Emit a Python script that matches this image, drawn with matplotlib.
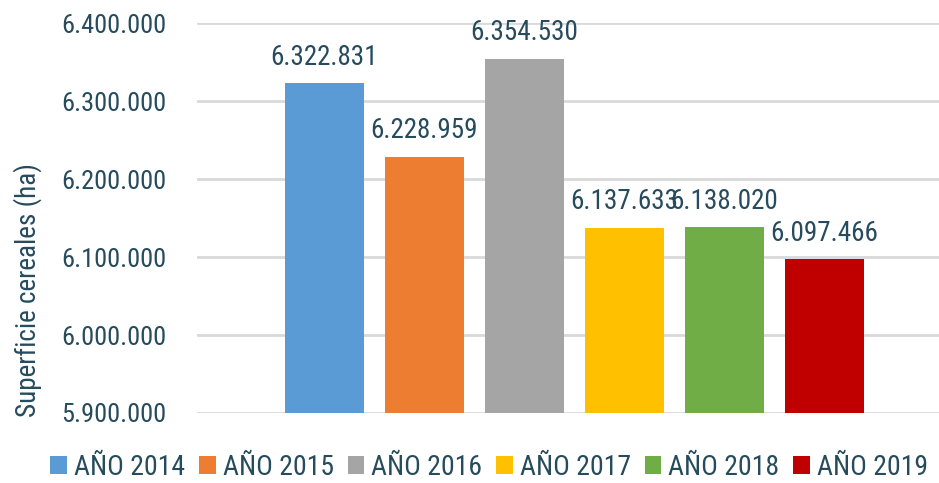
import matplotlib.pyplot as plt
from matplotlib.ticker import FuncFormatter

# data
years = ['AÑO 2014', 'AÑO 2015', 'AÑO 2016', 'AÑO 2017', 'AÑO 2018', 'AÑO 2019']
values = [6322831, 6228959, 6354530, 6137633, 6138020, 6097466]
colors = ['#5b9bd5', '#ed7d31', '#a5a5a5', '#ffc000', '#70ad47', '#c00000']

txt = '#264b5d'
plt.rcParams['font.family'] = ['Roboto Condensed', 'DejaVu Sans']


def miles(v):
    return '{:,.0f}'.format(v).replace(',', '.')


fig = plt.figure(figsize=(9.39, 4.83), dpi=100)
ax = fig.add_axes([0.21, 0.145, 0.79, 0.807])

for i, (lab, v, c) in enumerate(zip(years, values, colors)):
    ax.bar(i, v, width=0.79, color=c, label=lab, zorder=3)
    ax.annotate(miles(v), (i, v), xytext=(0, 9), textcoords='offset points',
                ha='center', va='bottom', fontsize=19.5, color=txt)

ax.set_ylim(5900000, 6400000)
ax.set_xlim(-1.27, 6.15)
ax.set_yticks(range(5900000, 6400001, 100000))
ax.yaxis.set_major_formatter(FuncFormatter(lambda v, p: miles(v)))
ax.set_xticks([])
ax.grid(axis='y', color='#d9d9d9', linewidth=2, zorder=0)
for s in ax.spines.values():
    s.set_visible(False)
ax.tick_params(axis='y', length=0, pad=22, labelsize=19, labelcolor=txt)
fig.text(0.029, 0.40, 'Superficie cereales (ha)', rotation=90, ha='center', va='center',
         fontsize=19.5, color=txt)

fig.legend(loc='center', bbox_to_anchor=(0.521, 0.033), ncol=6, frameon=False,
           fontsize=20, labelcolor=txt, handlelength=0.6, handleheight=0.6,
           handletextpad=0.25, columnspacing=0.5, borderaxespad=0, borderpad=0)

fig.savefig('out.png', dpi=100)
